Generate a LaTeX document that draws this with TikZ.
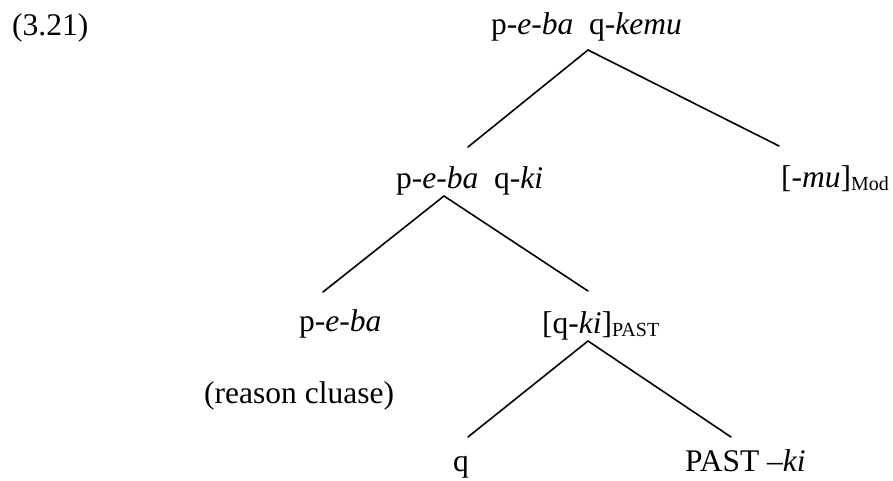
\documentclass[tikz,border=0pt]{standalone}
\usepackage{fontspec}
\setmainfont{Liberation Serif}
\newcommand{\lsub}[1]{\raisebox{-3pt}{\fontsize{20}{22}\selectfont #1}}
\begin{document}
\begin{tikzpicture}[x=1pt,y=-1pt,
  lbl/.style={anchor=base west,inner sep=0pt,font=\fontsize{31.5}{36}\selectfont},
  branch/.style={line width=1.6pt,line cap=round}]
\useasboundingbox (0,0) rectangle (893,481);
% labels
\node[lbl] (num) at (12,36) {(3.21)};
\node[lbl] (root) at (491,35) {p-\textit{e-ba}\hspace{0.5em}q-\textit{kemu}};
\node[lbl] (mid) at (396,188) {p-\textit{e-ba}\hspace{0.5em}q-\textit{ki}};
\node[lbl] (mod) at (781,187) {[-\textit{mu}]\lsub{Mod}};
\node[lbl] (peba) at (299,331) {p-\textit{e-ba}};
\node[lbl] (qki) at (542,333) {[q-\textit{ki}]\lsub{PAST}};
\node[lbl] (reason) at (204,403) {(reason cluase)};
\node[lbl] (q) at (453,471) {q};
\node[lbl] (past) at (685,471) {PAST \textit{–ki}};
% branch points
\coordinate (a0) at (588,50);
\coordinate (l1) at (468,147);
\coordinate (r1) at (779,146);
\coordinate (a1) at (444,196);
\coordinate (l2) at (323,292);
\coordinate (r2) at (588,291);
\coordinate (a2) at (588,341);
\coordinate (l3) at (468,437);
\coordinate (r3) at (731,437);
\draw[branch] (l1) -- (a0) -- (r1);
\draw[branch] (l2) -- (a1) -- (r2);
\draw[branch] (l3) -- (a2) -- (r3);
\end{tikzpicture}
\end{document}
